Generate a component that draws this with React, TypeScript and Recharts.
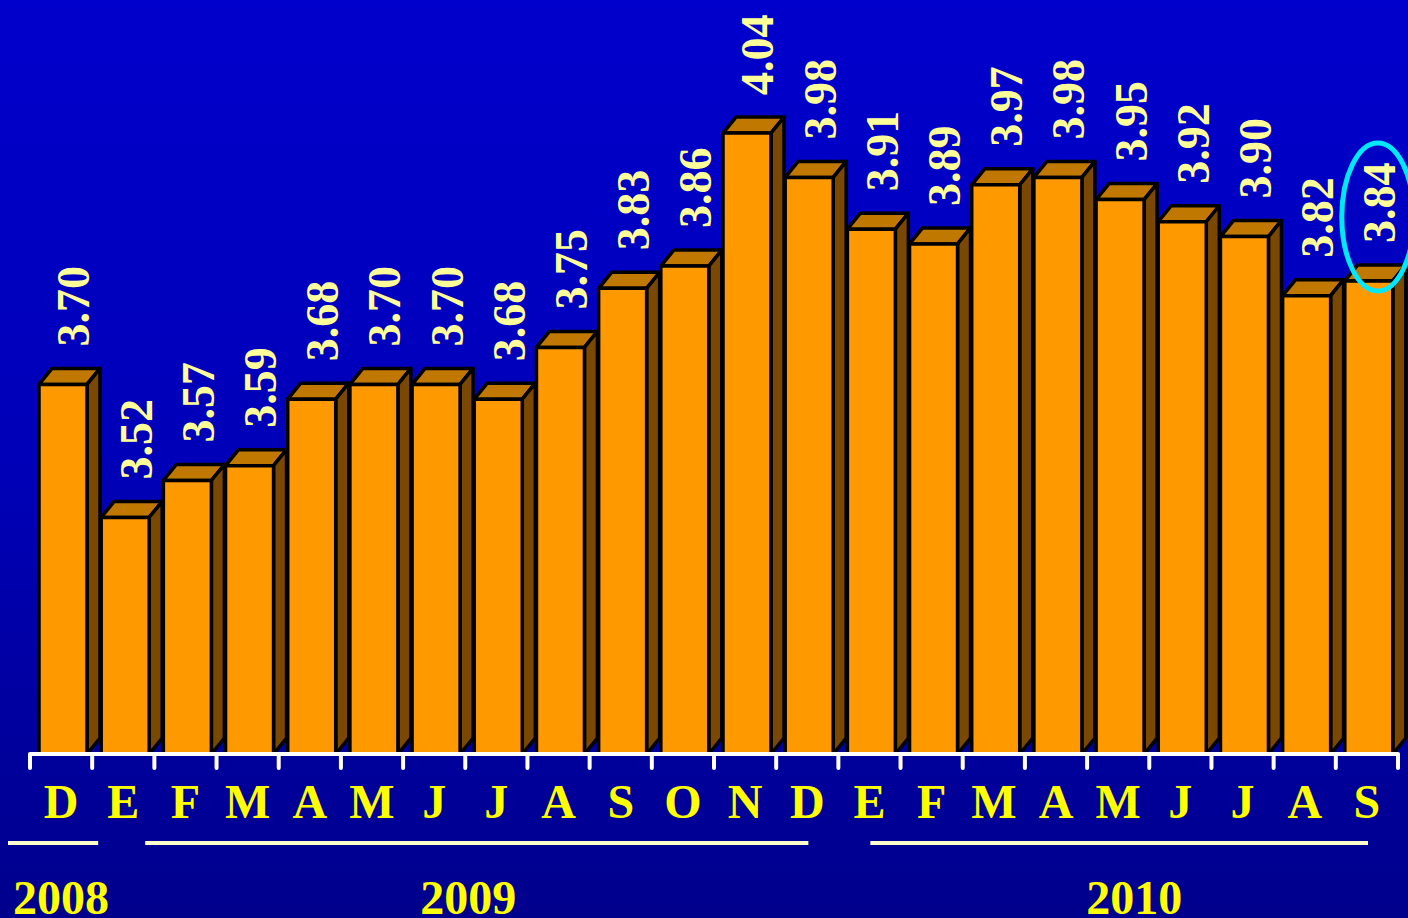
import React from "react";
import { BarChart, Bar, XAxis, YAxis, LabelList } from "recharts";

const months = ["D", "E", "F", "M", "A", "M", "J", "J", "A", "S", "O", "N", "D", "E", "F", "M", "A", "M", "J", "J", "A", "S"];
const values = [3.7, 3.52, 3.57, 3.59, 3.68, 3.7, 3.7, 3.68, 3.75, 3.83, 3.86, 4.04, 3.98, 3.91, 3.89, 3.97, 3.98, 3.95, 3.92, 3.9, 3.82, 3.84];
const years = [
  { label: "2008", start: 0, count: 1 },
  { label: "2009", start: 1, count: 12 },
  { label: "2010", start: 13, count: 9 },
];
const highlightIndex = 21;

const data = months.map((m, i) => ({ key: `${m}-${i}`, month: m, value: values[i] }));

const W = 1408;
const H = 918;
const LEFT = 30;
const RIGHT = 10;
const PLOT_BOTTOM = 754;
const BAND = (W - LEFT - RIGHT) / months.length;
const FONT = '"Liberation Serif", "Times New Roman", serif';
const DX = 13;
const DY = 16;

// underline insets and label nudges for the year groups
const yearStyle = [
  { l: -22, r: -6, dx: 0 },
  { l: 53, r: 30, dx: 3 },
  { l: 32, r: 30, dx: 16 },
];

function Bar3D(props: any) {
  const { x, y, width, height } = props;
  if (height == null || height <= 0) return null;
  const fx = x + 2;
  const w = width;
  return (
    <g stroke="#000" strokeWidth={3.5} strokeLinejoin="round">
      <polygon
        points={`${fx},${y} ${fx + DX},${y - DY} ${fx + w + DX},${y - DY} ${fx + w},${y}`}
        fill="#c07800"
      />
      <polygon
        points={`${fx + w},${y} ${fx + w + DX},${y - DY} ${fx + w + DX},${y + height - DY} ${fx + w},${y + height}`}
        fill="#7a4800"
      />
      <rect x={fx} y={y} width={w} height={height} fill="#ff9900" />
    </g>
  );
}

function ValueLabel(props: any) {
  const { x, y, width, value, index } = props;
  const cx = x + width / 2 + 13;
  const sy = y - 38;
  return (
    <g>
      <text
        x={cx}
        y={sy}
        transform={`rotate(-90, ${cx}, ${sy})`}
        textAnchor="start"
        dominantBaseline="central"
        fill="#ffff99"
        fontFamily={FONT}
        fontWeight="bold"
        fontSize={46}
      >
        {Number(value).toFixed(2)}
      </text>
      {index === highlightIndex && (
        <ellipse cx={cx - 2} cy={sy - 26} rx={36} ry={74} fill="none" stroke="#00e8ff" strokeWidth={5} />
      )}
    </g>
  );
}

function MonthTick(props: any) {
  const { x, payload } = props;
  const index = payload.index;
  const yi = years.findIndex((g) => g.start === index);
  const yr = yi >= 0 ? years[yi] : null;
  const st = yi >= 0 ? yearStyle[yi] : null;
  const left = x - BAND / 2;
  return (
    <g>
      <line x1={left} y1={PLOT_BOTTOM} x2={left} y2={PLOT_BOTTOM + 14} stroke="#fff" strokeWidth={4} strokeLinecap="round" />
      {index === months.length - 1 && (
        <line x1={x + BAND / 2} y1={PLOT_BOTTOM} x2={x + BAND / 2} y2={PLOT_BOTTOM + 14} stroke="#fff" strokeWidth={4} strokeLinecap="round" />
      )}
      <text x={x} y={818} textAnchor="middle" fill="#ffff00" fontFamily={FONT} fontWeight="bold" fontSize={48}>
        {months[index]}
      </text>
      {yr && st && (
        <g>
          <line
            x1={left + st.l}
            y1={843}
            x2={left + yr.count * BAND - st.r}
            y2={843}
            stroke="#ffffcc"
            strokeWidth={4}
          />
          <text
            x={left + (yr.count * BAND) / 2 + st.dx}
            y={914}
            textAnchor="middle"
            fill="#ffff00"
            fontFamily={FONT}
            fontWeight="bold"
            fontSize={48}
          >
            {yr.label}
          </text>
        </g>
      )}
    </g>
  );
}

export default function App() {
  return (
    <div
      style={{
        position: "absolute",
        left: 0,
        top: 0,
        width: W,
        height: H,
        overflow: "hidden",
        background: "linear-gradient(180deg, #0000cc 0%, #0000b8 50%, #00008c 100%)",
      }}
    >
      <BarChart
        width={W}
        height={H}
        data={data}
        margin={{ top: 0, right: RIGHT, left: LEFT, bottom: 0 }}
        barSize={48}
      >
        <YAxis hide type="number" domain={[3.2, 4.22]} allowDataOverflow />
        <Bar dataKey="value" shape={<Bar3D />} isAnimationActive={false}>
          <LabelList dataKey="value" content={<ValueLabel />} />
        </Bar>
        <XAxis
          dataKey="key"
          interval={0}
          tickLine={false}
          axisLine={{ stroke: "#fff", strokeWidth: 4 }}
          tick={<MonthTick />}
          height={H - PLOT_BOTTOM}
        />
      </BarChart>
    </div>
  );
}
